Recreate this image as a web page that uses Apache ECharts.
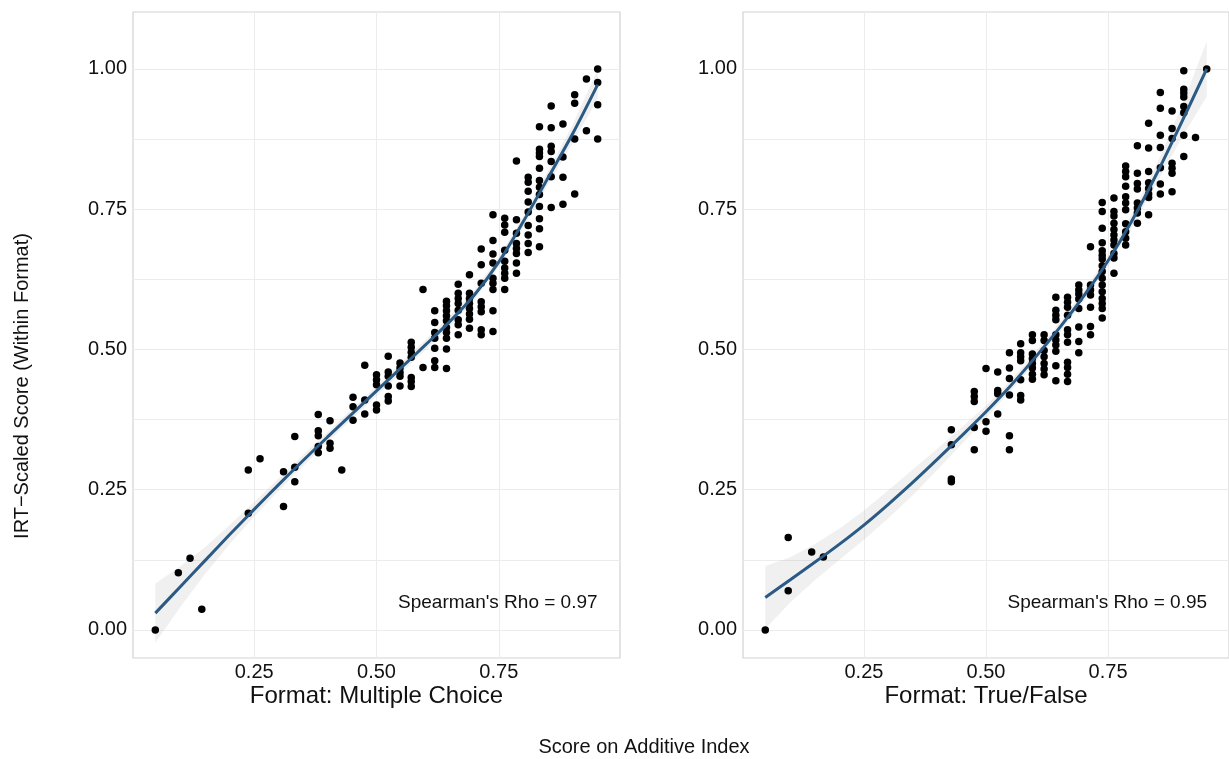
<!DOCTYPE html>
<html>
<head>
<meta charset="utf-8">
<script src="https://cdn.jsdelivr.net/npm/echarts@6/dist/echarts.min.js"></script>
<style>
  html, body { margin: 0; padding: 0; background: #ffffff; }
  #chart { width: 1229px; height: 759px; }
</style>
</head>
<body>
<div id="chart"></div>
<script>
// Additive index (share of items correct) for each column of respondents
const mcIndex = [0.048, 0.095, 0.119, 0.143, 0.238, 0.262, 0.310, 0.333, 0.381, 0.405, 0.429,
  0.452, 0.476, 0.500, 0.524, 0.548, 0.571, 0.595, 0.619, 0.643, 0.667, 0.690, 0.714, 0.738,
  0.762, 0.786, 0.810, 0.833, 0.857, 0.881, 0.905, 0.929, 0.952];
// IRT-scaled scores of the respondents in each column (multiple choice)
const mcIrt = [
  [0.000], [0.102], [0.128], [0.037], [0.285, 0.208], [0.305], [0.282, 0.220],
  [0.345, 0.290, 0.264], [0.384, 0.355, 0.346, 0.327, 0.316], [0.373, 0.333, 0.324], [0.285],
  [0.415, 0.398, 0.374], [0.472, 0.410, 0.385], [0.455, 0.446, 0.437, 0.401, 0.392],
  [0.488, 0.460, 0.452, 0.435, 0.416, 0.408], [0.476, 0.467, 0.459, 0.452, 0.435],
  [0.513, 0.504, 0.495, 0.486, 0.450, 0.443, 0.434], [0.607, 0.468],
  [0.569, 0.548, 0.530, 0.520, 0.502, 0.480, 0.468],
  [0.586, 0.578, 0.569, 0.560, 0.551, 0.539, 0.530, 0.520, 0.501, 0.466],
  [0.616, 0.600, 0.591, 0.582, 0.570, 0.553, 0.544, 0.526],
  [0.633, 0.600, 0.591, 0.582, 0.573, 0.563, 0.554, 0.538],
  [0.679, 0.651, 0.618, 0.585, 0.576, 0.567, 0.535, 0.526],
  [0.740, 0.694, 0.670, 0.654, 0.627, 0.618, 0.607, 0.569, 0.532],
  [0.734, 0.722, 0.709, 0.677, 0.657, 0.645, 0.636, 0.627, 0.607],
  [0.836, 0.731, 0.707, 0.689, 0.680, 0.671, 0.654, 0.636],
  [0.807, 0.798, 0.782, 0.763, 0.745, 0.721, 0.704, 0.689, 0.673],
  [0.897, 0.857, 0.850, 0.844, 0.823, 0.801, 0.789, 0.776, 0.755, 0.733, 0.715, 0.683],
  [0.934, 0.895, 0.862, 0.853, 0.835, 0.808, 0.753],
  [0.902, 0.843, 0.807, 0.759], [0.954, 0.939, 0.875, 0.777], [0.982, 0.890],
  [1.000, 0.976, 0.936, 0.875]
];

const tfIndex = [0.048, 0.095, 0.143, 0.167, 0.429, 0.476, 0.500, 0.524, 0.548, 0.571, 0.595,
  0.619, 0.643, 0.667, 0.690, 0.714, 0.738, 0.762, 0.786, 0.810, 0.833, 0.857, 0.881, 0.905,
  0.929, 0.952];
// IRT-scaled scores of the respondents in each column (true/false)
const tfIrt = [
  [0.000], [0.165, 0.070], [0.139], [0.130], [0.357, 0.330, 0.269, 0.264],
  [0.425, 0.416, 0.407, 0.361, 0.321], [0.466, 0.371, 0.354], [0.460, 0.427, 0.421, 0.385],
  [0.494, 0.467, 0.448, 0.419, 0.346, 0.321], [0.510, 0.494, 0.487, 0.480, 0.446, 0.418, 0.410],
  [0.526, 0.516, 0.492, 0.484, 0.475, 0.467, 0.456, 0.447],
  [0.526, 0.516, 0.498, 0.487, 0.475, 0.465, 0.455],
  [0.593, 0.570, 0.561, 0.553, 0.526, 0.517, 0.508, 0.497, 0.471, 0.444],
  [0.593, 0.584, 0.575, 0.561, 0.535, 0.526, 0.513, 0.477, 0.468, 0.456, 0.443],
  [0.615, 0.606, 0.599, 0.590, 0.573, 0.540, 0.514, 0.494],
  [0.683, 0.615, 0.606, 0.597, 0.575, 0.541, 0.526],
  [0.762, 0.746, 0.716, 0.690, 0.676, 0.668, 0.661, 0.649, 0.639, 0.627, 0.615, 0.603, 0.591, 0.582, 0.573, 0.556],
  [0.770, 0.746, 0.738, 0.725, 0.714, 0.704, 0.695, 0.686, 0.671, 0.663, 0.636],
  [0.827, 0.817, 0.808, 0.791, 0.772, 0.761, 0.749, 0.724, 0.710, 0.698, 0.686],
  [0.863, 0.814, 0.796, 0.786, 0.761, 0.752, 0.743, 0.725],
  [0.903, 0.859, 0.817, 0.797, 0.787, 0.777, 0.771, 0.740],
  [0.958, 0.930, 0.882, 0.860, 0.824, 0.795, 0.777],
  [0.925, 0.894, 0.876, 0.832, 0.823, 0.814, 0.781],
  [0.997, 0.964, 0.957, 0.950, 0.933, 0.922, 0.882, 0.844],
  [0.878], [1.000]
];

// Smoothed fit and its standard-error band
const fitX  = [0.048, 0.10, 0.15, 0.20, 0.25, 0.30, 0.35, 0.40, 0.45, 0.50, 0.55, 0.60, 0.65, 0.70, 0.75, 0.80, 0.85, 0.90, 0.952];
const mcFit = [0.030, 0.078, 0.124, 0.170, 0.215, 0.259, 0.302, 0.344, 0.385, 0.426, 0.467, 0.508, 0.550, 0.597, 0.656, 0.728, 0.805, 0.883, 0.972];
const mcSe  = [0.053, 0.036, 0.024, 0.017, 0.013, 0.011, 0.010, 0.009, 0.009, 0.009, 0.009, 0.009, 0.009, 0.009, 0.009, 0.010, 0.012, 0.016, 0.026];
const tfFit = [0.058, 0.090, 0.121, 0.153, 0.187, 0.224, 0.263, 0.304, 0.346, 0.389, 0.435, 0.485, 0.538, 0.595, 0.658, 0.731, 0.814, 0.904, 1.000];
const tfSe  = [0.056, 0.040, 0.032, 0.028, 0.026, 0.025, 0.023, 0.019, 0.015, 0.011, 0.009, 0.009, 0.009, 0.009, 0.010, 0.012, 0.017, 0.028, 0.049];

const rho = ['0.97', '0.95'];
const panelTitles = ['Format: Multiple Choice', 'Format: True/False'];

const xTicks = [0.25, 0.50, 0.75];
const yTicks = [0.00, 0.25, 0.50, 0.75, 1.00];
const yGrid  = [0.000, 0.125, 0.250, 0.375, 0.500, 0.625, 0.750, 0.875, 1.000];

const FONT = '"Liberation Sans", Arial, Helvetica, sans-serif';

function toPoints(index, irt) {
  const pts = [];
  index.forEach((x, i) => irt[i].forEach(y => pts.push([x, y])));
  return pts;
}

const chart = echarts.init(document.getElementById('chart'), null, { renderer: 'canvas' });

const grids = [
  { left: 133, top: 12, width: 487, height: 646 },
  { left: 743, top: 12, width: 487, height: 646 }
].map(g => Object.assign(g, { show: true, borderColor: '#d3d3d3', borderWidth: 1.2, backgroundColor: 'transparent' }));

function xAxisFor(i) {
  return {
    type: 'value', gridIndex: i, min: 0.0024, max: 0.9976,
    axisLine: { show: false },
    axisTick: { show: false, customValues: xTicks },
    axisLabel: { customValues: xTicks, formatter: v => v.toFixed(2), fontSize: 20, color: '#111',
                 fontFamily: FONT, margin: 4 },
    splitLine: { show: true, lineStyle: { color: '#ececec', width: 1 } }
  };
}
function yAxisFor(i) {
  return {
    type: 'value', gridIndex: i, min: -0.05, max: 1.1015,
    axisLine: { show: false },
    axisTick: { show: false, customValues: yGrid },
    axisLabel: { customValues: yTicks, formatter: v => v.toFixed(2), fontSize: 20, color: '#111',
                 fontFamily: FONT, margin: 6 },
    splitLine: { show: true, lineStyle: { color: '#ececec', width: 1 } }
  };
}

function bandSeries(i, fit, se) {
  return {
    type: 'custom', xAxisIndex: i, yAxisIndex: i, z: 1, silent: true,
    data: [0],
    renderItem: (params, api) => {
      const upper = fitX.map((x, j) => api.coord([x, fit[j] + se[j]]));
      const lower = fitX.map((x, j) => api.coord([x, fit[j] - se[j]])).reverse();
      return {
        type: 'polygon',
        shape: { points: upper.concat(lower) },
        style: { fill: 'rgba(160,160,160,0.16)', stroke: null }
      };
    }
  };
}
function pointSeries(i, index, irt) {
  return {
    type: 'scatter', xAxisIndex: i, yAxisIndex: i, z: 2, silent: true,
    symbol: 'circle', symbolSize: 7.5,
    itemStyle: { color: '#000000', opacity: 1 },
    data: toPoints(index, irt)
  };
}
function fitSeries(i, fit) {
  return {
    type: 'line', xAxisIndex: i, yAxisIndex: i, z: 3, silent: true,
    showSymbol: false, smooth: 0.3,
    lineStyle: { color: '#2b5a84', width: 3 },
    data: fitX.map((x, j) => [x, fit[j]])
  };
}

chart.setOption({
  animation: false,
  backgroundColor: '#ffffff',
  grid: grids,
  xAxis: [xAxisFor(0), xAxisFor(1)],
  yAxis: [yAxisFor(0), yAxisFor(1)],
  series: [
    bandSeries(0, mcFit, mcSe), pointSeries(0, mcIndex, mcIrt), fitSeries(0, mcFit),
    bandSeries(1, tfFit, tfSe), pointSeries(1, tfIndex, tfIrt), fitSeries(1, tfFit)
  ]
});

// Titles and annotations placed from the axis scales
const annoPos = [0, 1].map(i => chart.convertToPixel({ gridIndex: i }, [0.544, 0.048]));
const titlePos = [0, 1].map(i => chart.convertToPixel({ gridIndex: i }, [0.5, 0]));

const graphics = [];
[0, 1].forEach(i => {
  graphics.push({
    type: 'text', x: annoPos[i][0], y: annoPos[i][1], silent: true,
    style: { text: "Spearman's Rho = " + rho[i], font: '19px ' + FONT, fill: '#111',
             textAlign: 'left', textVerticalAlign: 'middle' }
  });
  graphics.push({
    type: 'text', x: titlePos[i][0], y: 696, silent: true,
    style: { text: panelTitles[i], font: '24px ' + FONT, fill: '#111',
             textAlign: 'center', textVerticalAlign: 'middle' }
  });
});
graphics.push({
  type: 'text', x: 644, y: 747, silent: true,
  style: { text: 'Score on Additive Index', font: '20px ' + FONT, fill: '#111',
           textAlign: 'center', textVerticalAlign: 'middle' }
});
graphics.push({
  type: 'text', x: 22, y: 386, rotation: Math.PI / 2, silent: true,
  style: { text: 'IRT\u2212Scaled Score (Within Format)', font: '20px ' + FONT, fill: '#111',
           textAlign: 'center', textVerticalAlign: 'middle' }
});
chart.setOption({ graphic: graphics });
</script>
</body>
</html>
